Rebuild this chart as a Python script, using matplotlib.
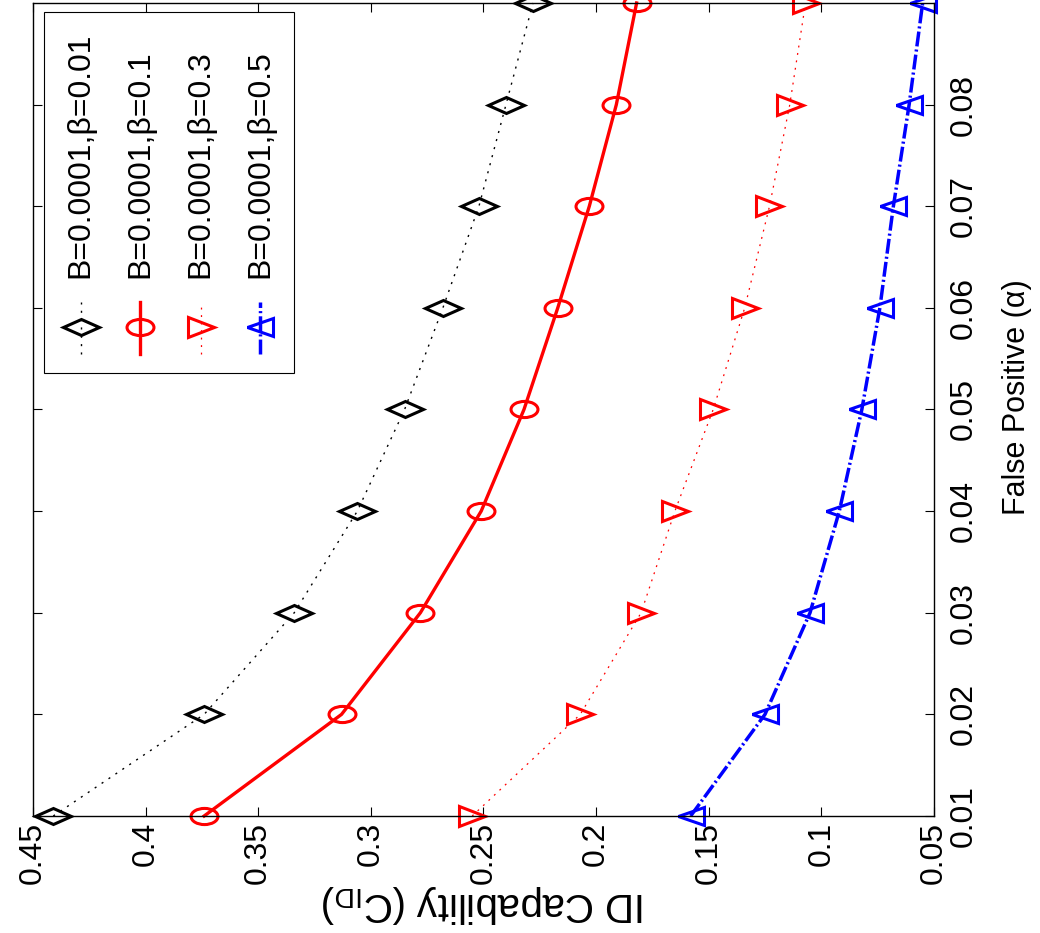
import matplotlib
matplotlib.use('Agg')
import matplotlib.pyplot as plt
from matplotlib.markers import MarkerStyle
from matplotlib.transforms import Affine2D
from matplotlib.patches import Rectangle
from matplotlib.lines import Line2D

# data (figure is drawn rotated: capability runs right-to-left, alpha bottom-to-top)
false_pos = [0.01, 0.02, 0.03, 0.04, 0.05, 0.06, 0.07, 0.08, 0.09]
cap_b001 = [0.441, 0.374, 0.334, 0.306, 0.285, 0.268, 0.252, 0.240, 0.228]
cap_b01 = [0.374, 0.313, 0.278, 0.251, 0.232, 0.217, 0.203, 0.191, 0.182]
cap_b03 = [0.255, 0.207, 0.180, 0.165, 0.148, 0.134, 0.123, 0.114, 0.107]
cap_b05 = [0.158, 0.125, 0.105, 0.092, 0.082, 0.074, 0.068, 0.061, 0.055]
labels = ['B=0.0001,β=0.01', 'B=0.0001,β=0.1', 'B=0.0001,β=0.3', 'B=0.0001,β=0.5']

cap_ticks = [0.45, 0.4, 0.35, 0.3, 0.25, 0.2, 0.15, 0.1, 0.05]
cap_ticklabels = ['0.45', '0.4', '0.35', '0.3', '0.25', '0.2', '0.15', '0.1', '0.05']
fp_ticks = [0.01, 0.02, 0.03, 0.04, 0.05, 0.06, 0.07, 0.08]
fp_ticklabels = ['0.01', '0.02', '0.03', '0.04', '0.05', '0.06', '0.07', '0.08']

plt.rcParams['font.family'] = ['Liberation Sans', 'DejaVu Sans']
plt.rcParams['mathtext.fontset'] = 'custom'
plt.rcParams['mathtext.rm'] = 'Liberation Sans'
plt.rcParams['mathtext.it'] = 'Liberation Sans'

# squashed markers (the original image is compressed vertically)
m_diam = MarkerStyle('D', transform=Affine2D().scale(1, 0.47))
m_circ = MarkerStyle('o', transform=Affine2D().scale(1, 0.6))
m_right = MarkerStyle('>', transform=Affine2D().scale(1, 0.77))
m_left = MarkerStyle('<', transform=Affine2D().scale(1, 0.7))

styles = [
    dict(color='k', ls=(0, (1.5, 4.5)), lw=1.0, marker=m_diam, ms=18.3),
    dict(color='r', ls='-', lw=2.4, marker=m_circ, ms=19.4),
    dict(color='r', ls=(0, (1.5, 4.5)), lw=0.9, marker=m_right, ms=18.7),
    dict(color='b', ls=(0, (4.3, 0.9, 0.6, 0.9)), lw=2.5, marker=m_left, ms=19.4),
]
series = [cap_b001, cap_b01, cap_b03, cap_b05]

fig = plt.figure(figsize=(10.4, 9.33), dpi=100)
ax = fig.add_axes([0.0317, 0.1254, 0.8663, 0.8714])

for ys, st in zip(series, styles):
    ax.plot(ys, false_pos, mfc='none', mew=2.2, clip_on=False, **st)

ax.set_xlim(0.45, 0.05)
ax.set_ylim(0.01, 0.09)
ax.set_xticks(cap_ticks)
ax.set_xticklabels(cap_ticklabels, rotation=90, fontsize=23)
ax.set_yticks(fp_ticks)
ax.set_yticklabels(fp_ticklabels, rotation=90, va='center', fontsize=23)
ax.tick_params(direction='in', length=6.5, width=0.8, top=True, right=True,
               labelleft=False, labelright=True)
ax.tick_params(axis='x', pad=4)
ax.tick_params(axis='y', pad=11)
for sp in ax.spines.values():
    sp.set_linewidth(1.0)

ax.set_xlabel(r'ID Capability (C$_{\mathrm{ID}}$)', fontsize=29, rotation=180, va='center')
ax.xaxis.set_label_coords(0.5, -0.108)
ax.yaxis.set_label_position('right')
ax.set_ylabel('False Positive (α)', fontsize=22, rotation=90, va='center')
ax.yaxis.set_label_coords(1.092, 0.515)

# hand-built legend, rotated with the rest of the figure
ax.add_patch(Rectangle((0.0122, 0.545), 0.278, 0.444, transform=ax.transAxes,
                       facecolor='white', edgecolor='k', lw=0.8, zorder=5))
leg_x = [0.053, 0.119, 0.186, 0.252]
for lx, lab, st in zip(leg_x, labels, styles):
    ax.add_line(Line2D([lx, lx], [0.568, 0.632], transform=ax.transAxes, color=st['color'],
                       ls=st['ls'], lw=st['lw'], zorder=6))
    ax.add_line(Line2D([lx], [0.6015], transform=ax.transAxes, color=st['color'],
                       marker=st['marker'], ms=st['ms'], mfc='none', mew=2.2, zorder=6))
    ax.text(lx, 0.6617, lab, transform=ax.transAxes, rotation=90, rotation_mode='anchor',
            ha='left', va='center', fontsize=23, zorder=7)

fig.savefig('out.png', dpi=100)
